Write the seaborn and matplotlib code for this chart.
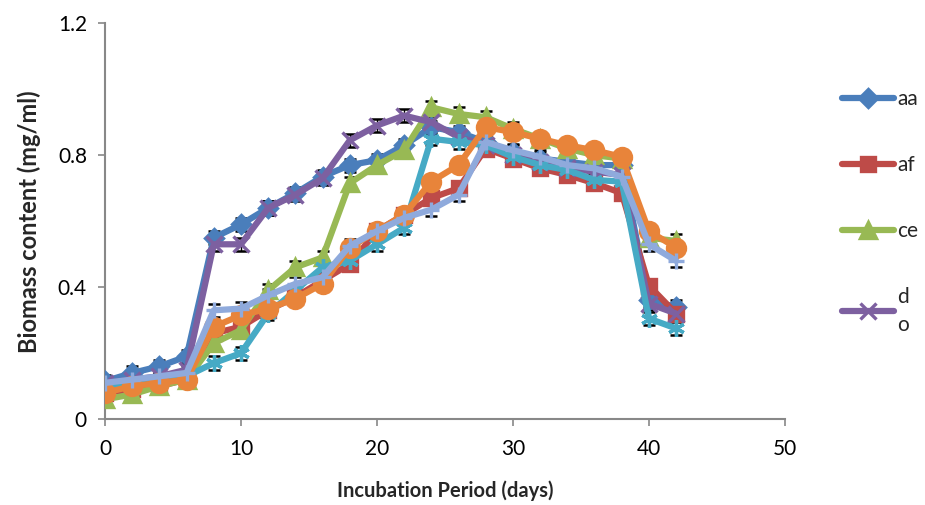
import pandas as pd
import matplotlib
matplotlib.use("Agg")
import matplotlib.pyplot as plt
import seaborn as sns

# Data
days = [0, 2, 4, 6, 8, 10, 12, 14, 16, 18, 20, 22, 24, 26, 28, 30, 32, 34, 36, 38, 40, 42]

aa = [0.115, 0.14, 0.16, 0.19, 0.55, 0.59, 0.64, 0.685, 0.735, 0.77, 0.785, 0.83,
      0.885, 0.87, 0.84, 0.81, 0.79, 0.78, 0.77, 0.77, 0.36, 0.34]
af = [0.08, 0.09, 0.10, 0.12, 0.26, 0.28, 0.33, 0.37, 0.42, 0.47, 0.57, 0.62,
      0.67, 0.70, 0.82, 0.79, 0.76, 0.74, 0.715, 0.685, 0.405, 0.32]
ce = [0.06, 0.075, 0.10, 0.12, 0.23, 0.27, 0.39, 0.46, 0.49, 0.715, 0.77, 0.815,
      0.945, 0.925, 0.915, 0.88, 0.85, 0.82, 0.80, 0.79, 0.55, 0.54]
do = [0.11, 0.12, 0.13, 0.15, 0.53, 0.53, 0.64, 0.68, 0.73, 0.845, 0.89, 0.92,
      0.90, 0.855, 0.83, 0.80, 0.78, 0.76, 0.75, 0.74, 0.35, 0.32]
s5 = [0.10, 0.11, 0.12, 0.13, 0.17, 0.20, 0.32, 0.39, 0.46, 0.48, 0.53, 0.58,
      0.85, 0.84, 0.83, 0.795, 0.77, 0.755, 0.725, 0.72, 0.305, 0.275]
s6 = [0.08, 0.10, 0.11, 0.12, 0.28, 0.315, 0.335, 0.365, 0.41, 0.52, 0.57, 0.62,
      0.72, 0.77, 0.885, 0.87, 0.85, 0.83, 0.815, 0.795, 0.57, 0.52]
s7 = [0.11, 0.12, 0.13, 0.14, 0.33, 0.335, 0.375, 0.41, 0.43, 0.525, 0.57, 0.61,
      0.635, 0.68, 0.84, 0.815, 0.795, 0.77, 0.76, 0.735, 0.53, 0.48]

series_names = ["aa", "af", "ce", "do", "s5", "s6", "s7"]
series_vals = [aa, af, ce, do, s5, s6, s7]
legend_labels = ["aa", "af", "ce", "d\no"]
err = 0.02

colors = ["#4A7EBB", "#BE4B48", "#98B954", "#7D60A0", "#46AAC5", "#E8843A", "#8FAADC"]
markers = ["D", "s", "^", "x", (6, 2, 0), "o", "+"]
msizes = [9, 10, 11, 11, 12, 13, 12]

sns.set_theme(style="white")
plt.rcParams["font.family"] = ["Lato", "DejaVu Sans"]

fig = plt.figure(figsize=(9.25, 5.05), dpi=100)
ax = fig.add_axes([0.1135, 0.170, 0.735, 0.784])

handles = []
for i, (name, vals) in enumerate(zip(series_names, series_vals)):
    # error bars sit under the lines, so only the caps peek out
    ax.errorbar(days, vals, yerr=err, fmt="none", ecolor="black",
                elinewidth=1, capsize=4, capthick=1.8, zorder=2)
    df = pd.DataFrame({"day": days, "biomass": vals})
    sns.lineplot(data=df, x="day", y="biomass", ax=ax, color=colors[i],
                 linewidth=4.5, marker=markers[i], markersize=msizes[i],
                 markeredgewidth=2.4, markeredgecolor=colors[i], zorder=3 + i)
    handles.append(ax.get_lines()[-1])

ax.set_xlim(0, 50)
ax.set_ylim(0, 1.2)
ax.set_xticks([0, 10, 20, 30, 40, 50])
ax.set_yticks([0, 0.4, 0.8, 1.2])
ax.set_yticklabels(["0", "0.4", "0.8", "1.2"])
ax.tick_params(axis="both", labelsize=15, colors="#888888", labelcolor="black",
               direction="out", length=5, width=1.2, bottom=True, left=True)
ax.tick_params(axis="x", pad=9)
ax.tick_params(axis="y", pad=8)
for side in ["top", "right"]:
    ax.spines[side].set_visible(False)
for side in ["left", "bottom"]:
    ax.spines[side].set_color("#888888")
    ax.spines[side].set_linewidth(1.5)

ax.set_xlabel("Incubation Period (days)", fontsize=14.5, fontweight="bold", labelpad=16)
ax.set_ylabel("Biomass content (mg/ml)", fontsize=17, fontweight="bold", labelpad=12)

leg = fig.legend(handles[:4], legend_labels, loc="upper left",
                 bbox_to_anchor=(0.897, 0.848), frameon=False, fontsize=15,
                 handlelength=2.5, handletextpad=0.15, labelspacing=2.2,
                 borderaxespad=0.2)
for t in leg.get_texts():
    t.set_linespacing(1.5)

fig.savefig("out.png", dpi=100)
